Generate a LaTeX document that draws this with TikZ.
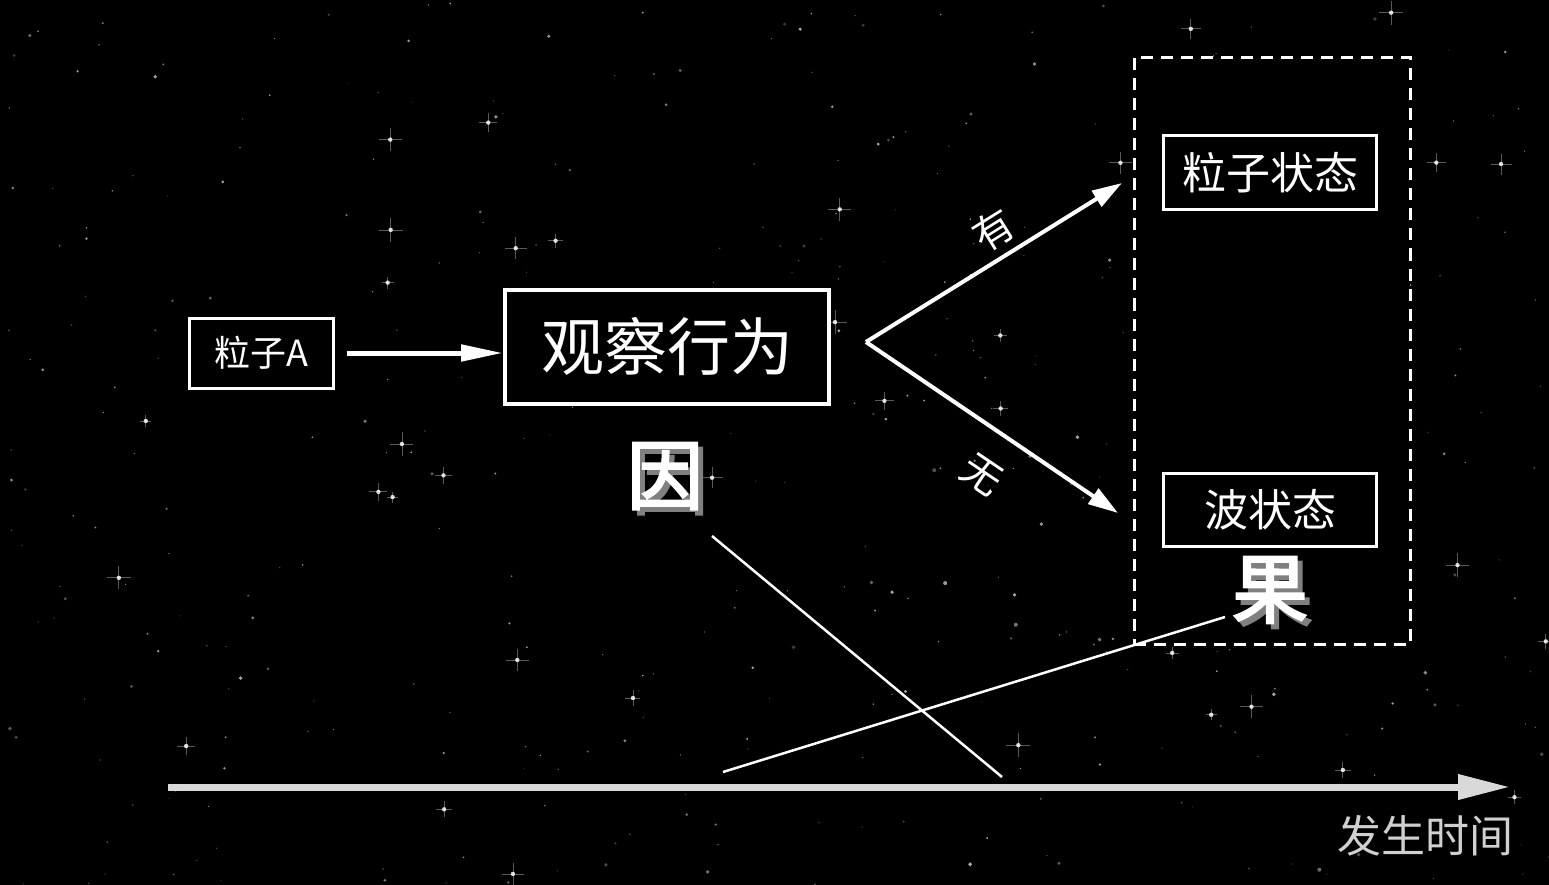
\documentclass[tikz,border=0pt]{standalone}
\usepackage{fontspec}
\setmainfont{Noto Sans CJK SC}
\newfontfamily\cjkheavy[FakeBold=3]{Noto Sans CJK SC}
\usepackage{tikz}
\usetikzlibrary{arrows.meta,positioning,calc}
\definecolor{axisgray}{HTML}{D9D9D9}
\definecolor{labelgray}{HTML}{D0D0D0}
\tikzset{>={Triangle[length=30pt,width=18pt]}}

\begin{document}
\begin{tikzpicture}[x=1pt,y=-1pt,
              frame/.style={draw=white, fill=black, line width=3pt, inner sep=0pt, text=white},
              bigchar/.style={font=\cjkheavy\fontsize{76}{80}\selectfont, inner sep=0pt},
              link/.style={white, line width=2.5pt},
              branch/.style={white, line width=4pt, ->},
             ]

\fill[black] (0,0) rectangle (1549,885);
\useasboundingbox (0,0) rectangle (1549,885);

\pgfmathsetseed{42}
\foreach \i in {1,...,420}{
  \pgfmathsetmacro{\sx}{rnd*1549}
  \pgfmathsetmacro{\sy}{rnd*885}
  \pgfmathsetmacro{\sr}{0.6+1.4*rnd^3}
  \pgfmathsetmacro{\so}{0.2+0.5*rnd}
  \fill[white, opacity=\so] (\sx,\sy) circle (\sr pt);
}
\foreach \i in {1,...,45}{
  \pgfmathsetmacro{\sx}{rnd*1549}
  \pgfmathsetmacro{\sy}{rnd*885}
  \pgfmathsetmacro{\sl}{5+7*rnd}
  \fill[white, opacity=0.85] (\sx,\sy) circle (2.2pt);
  \draw[white, opacity=0.35, line width=0.8pt] (\sx-\sl,\sy) -- (\sx+\sl,\sy) (\sx,\sy-\sl) -- (\sx,\sy+\sl);
}

\node[draw=white, fill=black, line width=3pt, dash pattern=on 12pt off 8pt, minimum width=276pt, minimum height=587pt] (outcome) at (1272,351) {};

\node[frame, minimum width=144pt, minimum height=70pt, font=\fontsize{36}{40}\selectfont] (particle) at (261,353) {粒子A};
\node[frame, line width=4pt, minimum width=324pt, minimum height=114pt, font=\fontsize{63}{70}\selectfont] (observe) at (667,347) {观察行为};
\node[frame, minimum width=213pt, minimum height=74pt, font=\fontsize{44}{48}\selectfont] (pstate) at (1270,173) {粒子状态};
\node[frame, minimum width=213pt, minimum height=73pt, font=\fontsize{44}{48}\selectfont] (wstate) at (1270,510) {波状态};

\draw[white, line width=5pt, -{Triangle[length=42pt,width=16pt]}, shorten <=12pt] (particle.east) -- (particle.east -| observe.west);

\coordinate (fork) at (866,342);
\coordinate (uptip) at (1122,183);
\coordinate (downtip) at (1118,513);
\draw[branch] (fork) -- (uptip);
\draw[branch] (fork) -- (downtip);
\node[rotate=32, text=white, font=\fontsize{40}{44}\selectfont] (yes) at (993,230) {有};
\node[rotate=-34, text=white, font=\fontsize{40}{44}\selectfont] (no) at (982,475) {无};

\coordinate (causepos) at (665,476);
\coordinate (effectpos) at (1270,590);
\node[bigchar, text=gray] at ([shift={(5,5)}]causepos) {因};
\node[bigchar, text=white] (cause) at (causepos) {因};
\node[bigchar, text=gray] at ([shift={(5,5)}]effectpos) {果};
\node[bigchar, text=white] (effect) at (effectpos) {果};

\coordinate (tstart) at (168,787);
\coordinate (tend) at (1510,787);
\draw[axisgray, line width=7pt, -{Triangle[length=52pt,width=24pt]}] (tstart) -- (tend);
\node[text=labelgray, font=\fontsize{44}{48}\selectfont] (timelabel) at (1425,836) {发生时间};

\coordinate (causefoot) at (712,536);
\coordinate (axiscause) at (1002,777);
\coordinate (axiseffect) at (723,772);
\coordinate (effectfoot) at (1225,617);
\draw[link] (causefoot) -- (axiscause);
\draw[link] (axiseffect) -- (effectfoot);
\end{tikzpicture}
\end{document}
